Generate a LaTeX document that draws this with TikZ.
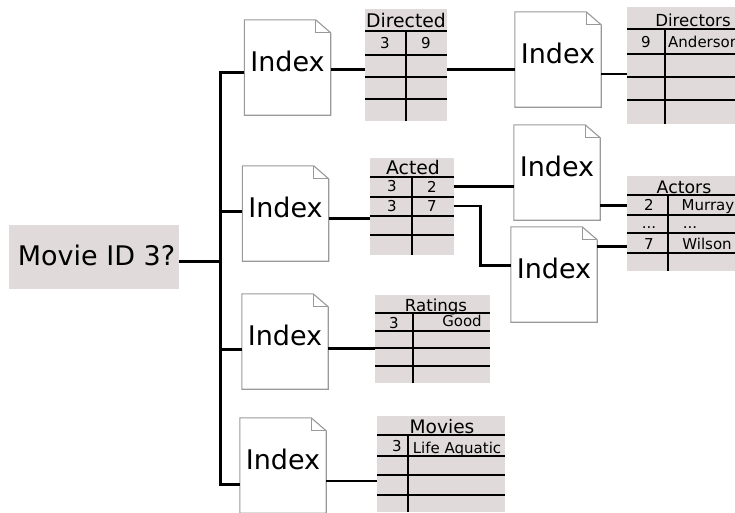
\documentclass[tikz,border=0pt]{standalone}
\usepackage{fontspec}
\setmainfont{DejaVu Sans}
\tikzset{
	tablebg/.style={fill=tablegray, inner sep=0pt},
	docbox/.style={inner sep=0pt, minimum width=86pt, minimum height=95pt, font=\fontsize{27}{27}\selectfont},
	docline/.style={draw=docgray, line width=1.1pt, line join=miter},
	rule/.style={black, line width=2.7pt},
	thick link/.style={black, line width=3pt},
	thin link/.style={black, line width=1.6pt},
	title/.style={inner sep=0pt, font=\fontsize{#1}{#1}\selectfont},
	cell/.style={inner sep=0pt, font=\fontsize{15}{15}\selectfont}
}
\definecolor{tablegray}{HTML}{E0DADA}
\definecolor{docgray}{HTML}{999999}
% document with a folded corner: name, centre x, centre y
\newcommand{\docnode}[3]{
	\node [docbox] (#1) at (#2,#3) {\raisebox{13.5pt}{Index}};
	\draw [docline] (#1.north west) -- ([xshift=-15pt]#1.north east) -- ([yshift=-13pt]#1.north east) -- (#1.south east) -- (#1.south west) -- cycle;
	\draw [docline] ([xshift=-15pt]#1.north east) |- ([yshift=-13pt]#1.north east);
}
\begin{document}
\begin{tikzpicture}[x=1pt,y=-1pt]
	\useasboundingbox (0,0) rectangle (735,512);
	% query
	\node [tablebg, minimum width=170pt, minimum height=64pt, font=\fontsize{27}{27}\selectfont] (query) at (94,257) {\hspace*{5pt}\raisebox{4pt}{Movie ID 3?}};
	% index files
	\docnode{doca}{287.5}{67.5}
	\docnode{docb}{285.5}{213.5}
	\docnode{docc}{285}{341.5}
	\docnode{docd}{283}{465.5}
	\docnode{doce}{558}{59.5}
	\docnode{docf}{557}{172.5}
	\docnode{docg}{554}{274.5}
	% Directed
	\node [tablebg, minimum width=82pt, minimum height=112pt] (directed) at (406,65) {};
	\node [title=18.8] (directedt) at (406,20) {Directed};
	\node [cell] (directeda) at (385,43) {3};
	\node [cell] (directedb) at (426,43) {9};
	\foreach \y in {31,55,77,99}
		\draw [rule] (directed.west |- 0,\y) -- (directed.east |- 0,\y);
	\draw [rule] (406,31) -- (directed.south);
	% Directors
	\node [tablebg, minimum width=108pt, minimum height=117pt] (directors) at (681,65.5) {};
	\node [title=16.6] (directorst) at (693,20) {Directors};
	\node [cell] (directorsa) at (646,42) {9};
	\node [cell, anchor=west] (directorsb) at (668,42) {Anderson};
	\foreach \y in {29,54,77,100}
		\draw [rule] (directors.west |- 0,\y) -- (directors.east |- 0,\y);
	\draw [rule] (665,29) -- (665,124);
	% Acted
	\node [tablebg, minimum width=84pt, minimum height=97pt] (acted) at (412,206.5) {};
	\node [title=18.8] (actedt) at (413,167) {Acted};
	\node [cell] (acteda) at (392,186) {3};
	\node [cell] (actedb) at (432,187) {2};
	\node [cell] (actedc) at (392,206) {3};
	\node [cell] (actedd) at (432,206) {7};
	\foreach \y in {177,197,216,235}
		\draw [rule] (acted.west |- 0,\y) -- (acted.east |- 0,\y);
	\draw [rule] (412,177) -- (acted.south);
	% Actors
	\node [tablebg, minimum width=108pt, minimum height=95pt] (actors) at (681,223.5) {};
	\node [title=17.3] (actorst) at (684,187) {Actors};
	\node [cell] (actorsa) at (649,205) {2};
	\node [cell] (actorsb) at (708,207) {Murray};
	\node [cell] (actorsc) at (649,228) {...};
	\node [cell] (actorsd) at (690,228) {...};
	\node [cell] (actorse) at (649,244) {7};
	\node [cell] (actorsf) at (707,244) {Wilson};
	\foreach \y in {195,215,233,253}
		\draw [rule] (actors.west |- 0,\y) -- (actors.east |- 0,\y);
	\draw [rule] (668,195) -- (668,271);
	% Ratings
	\node [tablebg, minimum width=115pt, minimum height=88pt] (ratings) at (432.5,339) {};
	\node [title=16.6] (ratingst) at (436,307) {Ratings};
	\node [cell] (ratingsa) at (394,323) {3};
	\node [cell] (ratingsb) at (462,321) {Good};
	\foreach \y in {313,331,348,366}
		\draw [rule] (ratings.west |- 0,\y) -- (ratings.east |- 0,\y);
	\draw [rule] (413,313) -- (413,383);
	% Movies
	\node [tablebg, minimum width=128pt, minimum height=96pt] (movies) at (441,464) {};
	\node [title=18.6] (moviest) at (442,427) {Movies};
	\node [cell] (moviesa) at (397,446) {3};
	\node [cell] (moviesb) at (457,449) {Life Aquatic};
	\foreach \y in {435,456,475,495}
		\draw [rule] (movies.west |- 0,\y) -- (movies.east |- 0,\y);
	\draw [rule] (408,435) -- (408,512);
	% trunk
	\coordinate (trunktop) at (220,72);
	\coordinate (trunkbot) at (220,484);
	\coordinate (bend) at (480,206);
	\draw [thick link] (doca.west |- trunktop) -- (trunktop) -- (trunkbot) -- (docd.west |- trunkbot);
	\draw [thick link] ([yshift=-4pt]query.east) -- (trunktop |- 0,261);
	\draw [thick link] (trunktop |- 0,211) -- (docb.west |- 0,211);
	\draw [thick link] (trunktop |- 0,349) -- (docc.west |- 0,349);
	% links
	\draw [thick link] (doca.east |- 0,69) -- (directed.west |- 0,69);
	\draw [thick link] (directed.east |- 0,69) -- (doce.west |- 0,69);
	\draw [thin link] (doce.east |- 0,74) -- (directors.west |- 0,74);
	\draw [thick link] (docb.east |- 0,218) -- (acted.west |- 0,218);
	\draw [thick link] (acted.east |- 0,186) -- (docf.west |- 0,186);
	\draw [thin link] (acted.east |- bend) -- (bend);
	\draw [thick link] ([yshift=1pt]bend) |- (docg.west |- 0,265);
	\draw [thick link] (docf.east |- 0,205) -- (actors.west |- 0,205);
	\draw [thick link] (docg.east |- 0,246) -- (actors.west |- 0,246);
	\draw [thick link] (docc.east |- 0,348) -- (ratings.west |- 0,348);
	\draw [thin link] (docd.east |- 0,481) -- (movies.west |- 0,481);
\end{tikzpicture}
\end{document}
